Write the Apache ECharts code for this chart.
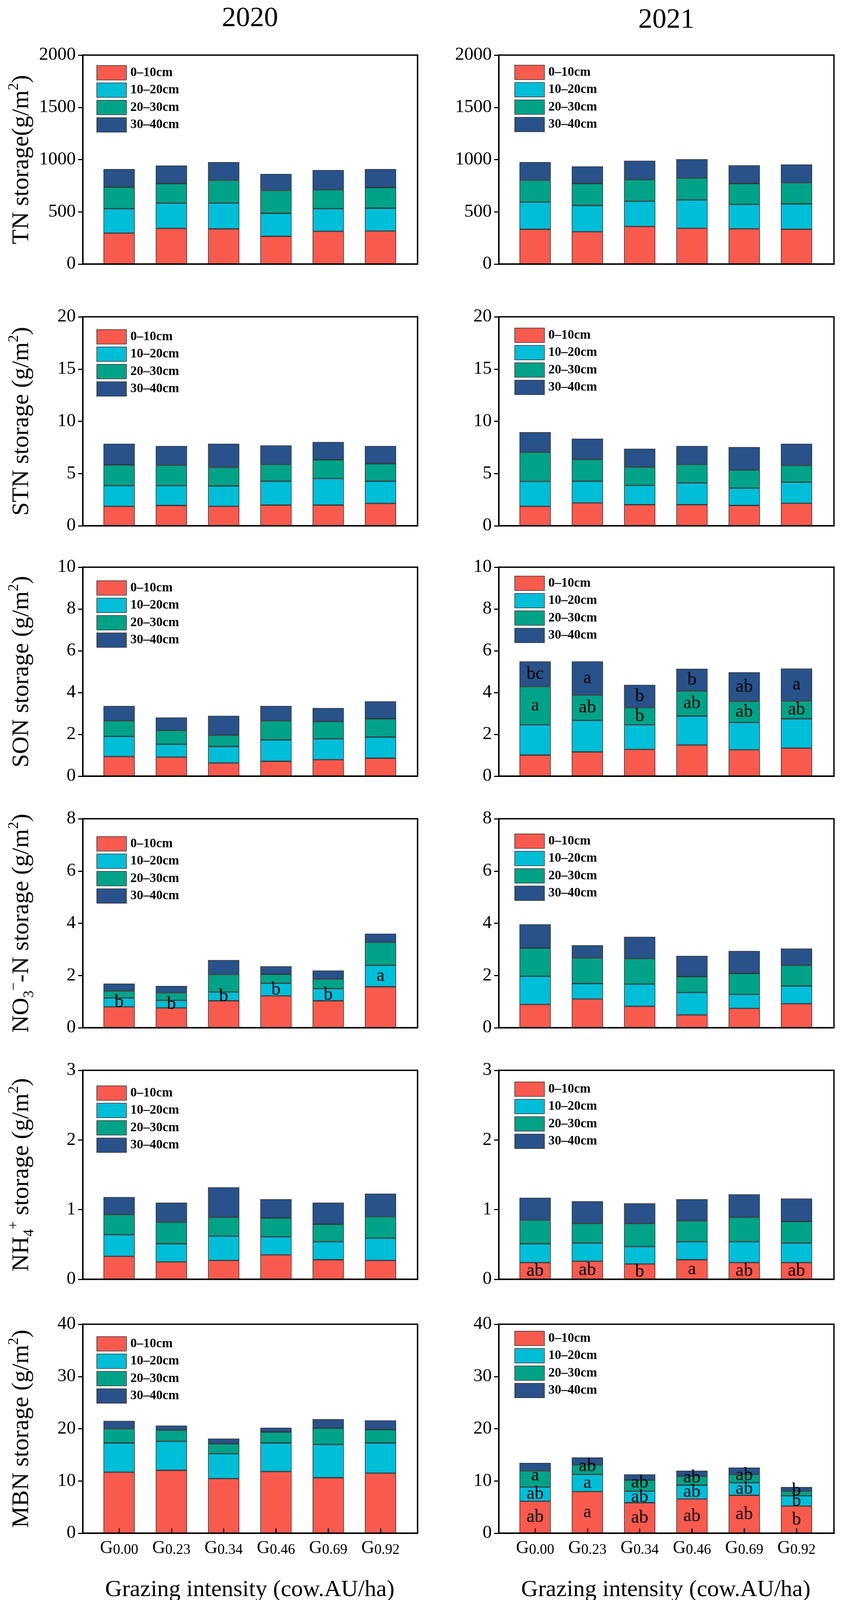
<!DOCTYPE html>
<html><head><meta charset="utf-8">
<script src="https://cdn.jsdelivr.net/npm/echarts@6/dist/echarts.min.js"></script>
<style>html,body{margin:0;padding:0;background:#fff}#c{width:2153px;height:4131px}</style>
</head><body><div id="c"></div>
<script>
// ---------- DATA ----------
const categories = ['0.00','0.23','0.34','0.46','0.69','0.92'];
const depths = ['0–10cm','10–20cm','20–30cm','30–40cm'];
const yMax = [2000, 20, 10, 8, 3, 40];
const yStep = [500, 5, 2, 2, 1, 10];

// TN storage (g/m2)
const tn20_d1 = [296, 341, 336, 265, 313, 316];
const tn20_d2 = [234, 243, 248, 221, 217, 219];
const tn20_d3 = [206, 186, 218, 219, 181, 198];
const tn20_d4 = [173, 173, 174, 158, 189, 176];
const tn21_d1 = [333, 309, 360, 342, 337, 333];
const tn21_d2 = [260, 252, 241, 272, 234, 243];
const tn21_d3 = [209, 209, 207, 209, 199, 203];
const tn21_d4 = [174, 165, 181, 181, 175, 174];
// STN storage
const stn20_d1 = [1.86, 1.94, 1.86, 1.98, 1.98, 2.14];
const stn20_d2 = [1.98, 1.90, 1.95, 2.28, 2.55, 2.12];
const stn20_d3 = [1.99, 1.96, 1.78, 1.62, 1.79, 1.68];
const stn20_d4 = [2.02, 1.84, 2.26, 1.81, 1.70, 1.70];
const stn21_d1 = [1.86, 2.19, 2.02, 2.02, 1.94, 2.15];
const stn21_d2 = [2.38, 2.07, 1.85, 2.08, 1.67, 2.03];
const stn21_d3 = [2.80, 2.09, 1.75, 1.78, 1.73, 1.60];
const stn21_d4 = [1.92, 1.99, 1.75, 1.76, 2.19, 2.07];
// SON storage
const son20_d1 = [0.94, 0.91, 0.63, 0.71, 0.79, 0.86];
const son20_d2 = [0.96, 0.62, 0.79, 1.03, 1.00, 1.01];
const son20_d3 = [0.75, 0.66, 0.54, 0.91, 0.82, 0.88];
const son20_d4 = [0.71, 0.62, 0.93, 0.71, 0.65, 0.83];
const son21_d1 = [1.01, 1.16, 1.28, 1.49, 1.26, 1.34];
const son21_d2 = [1.45, 1.51, 1.18, 1.39, 1.31, 1.41];
const son21_d3 = [1.83, 1.21, 0.82, 1.20, 1.01, 0.85];
const son21_d4 = [1.20, 1.61, 1.09, 1.06, 1.39, 1.55];
// NO3- -N storage
const no320_d1 = [0.80, 0.76, 1.03, 1.22, 1.03, 1.57];
const no320_d2 = [0.34, 0.29, 0.34, 0.48, 0.47, 0.82];
const no320_d3 = [0.27, 0.29, 0.67, 0.35, 0.36, 0.88];
const no320_d4 = [0.28, 0.26, 0.55, 0.30, 0.33, 0.33];
const no321_d1 = [0.89, 1.10, 0.82, 0.49, 0.74, 0.92];
const no321_d2 = [1.08, 0.59, 0.85, 0.86, 0.54, 0.68];
const no321_d3 = [1.08, 0.98, 0.98, 0.61, 0.80, 0.79];
const no321_d4 = [0.91, 0.49, 0.83, 0.79, 0.86, 0.64];
// NH4+ storage
const nh420_d1 = [0.33, 0.25, 0.27, 0.35, 0.28, 0.27];
const nh420_d2 = [0.31, 0.26, 0.35, 0.26, 0.26, 0.32];
const nh420_d3 = [0.29, 0.31, 0.27, 0.27, 0.25, 0.31];
const nh420_d4 = [0.25, 0.28, 0.43, 0.27, 0.31, 0.33];
const nh421_d1 = [0.24, 0.26, 0.22, 0.28, 0.24, 0.24];
const nh421_d2 = [0.27, 0.26, 0.25, 0.26, 0.30, 0.28];
const nh421_d3 = [0.34, 0.28, 0.33, 0.30, 0.35, 0.31];
const nh421_d4 = [0.32, 0.32, 0.29, 0.31, 0.33, 0.33];
// MBN storage
const mbn20_d1 = [11.68, 12.04, 10.44, 11.79, 10.62, 11.50];
const mbn20_d2 = [5.59, 5.55, 4.78, 5.48, 6.37, 5.77];
const mbn20_d3 = [2.73, 2.13, 1.88, 2.09, 3.12, 2.55];
const mbn20_d4 = [1.49, 0.88, 1.02, 0.82, 1.73, 1.77];
const mbn21_d1 = [6.12, 7.96, 5.84, 6.55, 7.26, 5.20];
const mbn21_d2 = [2.73, 3.30, 2.20, 2.65, 2.40, 1.95];
const mbn21_d3 = [3.08, 1.84, 2.12, 1.70, 1.60, 0.89];
const mbn21_d4 = [1.52, 1.41, 1.10, 1.06, 1.31, 0.81];

// significance letters
const son21_sig_d3 = ['a','ab','b','ab','ab','ab'];
const son21_sig_d4 = ['bc','a','b','b','ab','a'];
const no320_sig_d2 = ['b','b','b','b','b','a'];
const nh421_sig_d1 = ['ab','ab','b','a','ab','ab'];
const mbn21_sig_d1 = ['ab','a','ab','ab','ab','b'];
const mbn21_sig_d2 = ['ab','a','ab','ab','ab','b'];
const mbn21_sig_d3 = ['a','ab','ab','ab','ab','b'];

// ---------- LAYOUT / STYLE ----------
const SERIF = "'Liberation Serif','Times New Roman',serif";
const COLORS = ['#F95A4E','#00BED8','#00A388','#285289'];
const FRAMES = [{left:212,width:857},{left:1277,width:858}];
const TOPS = [141, 811, 1452, 2096, 2740, 3390];
const H = 535, INSET = 26, DATAW = 803;
const LEGEND_TOP = [[167,166],[843,839],[1486,1474],[2141,2134],[2779,2769],[3421,3407]];

const yNames = [
  '{a|TN}{a| storage}{a|(g/m}{p|2}{a|)}',
  '{a|STN}{a| storage (g/m}{p|2}{a|)}',
  '{a|SON}{a| storage (g/m}{p|2}{a|)}',
  '{a|NO}{b|3}{p|−}{a|-N storage (g/m}{p|2}{a|)}',
  '{a|NH}{b|4}{p|+}{a| storage (g/m}{p|2}{a|)}',
  '{a|MBN}{a| storage (g/m}{p|2}{a|)}'
];

const panels = [
  {r:0,c:0,d:[tn20_d1,tn20_d2,tn20_d3,tn20_d4],sig:{}},
  {r:0,c:1,d:[tn21_d1,tn21_d2,tn21_d3,tn21_d4],sig:{}},
  {r:1,c:0,d:[stn20_d1,stn20_d2,stn20_d3,stn20_d4],sig:{}},
  {r:1,c:1,d:[stn21_d1,stn21_d2,stn21_d3,stn21_d4],sig:{}},
  {r:2,c:0,d:[son20_d1,son20_d2,son20_d3,son20_d4],sig:{}},
  {r:2,c:1,d:[son21_d1,son21_d2,son21_d3,son21_d4],sig:{2:son21_sig_d3,3:son21_sig_d4}},
  {r:3,c:0,d:[no320_d1,no320_d2,no320_d3,no320_d4],sig:{1:no320_sig_d2}},
  {r:3,c:1,d:[no321_d1,no321_d2,no321_d3,no321_d4],sig:{}},
  {r:4,c:0,d:[nh420_d1,nh420_d2,nh420_d3,nh420_d4],sig:{}},
  {r:4,c:1,d:[nh421_d1,nh421_d2,nh421_d3,nh421_d4],sig:{0:nh421_sig_d1}},
  {r:5,c:0,d:[mbn20_d1,mbn20_d2,mbn20_d3,mbn20_d4],sig:{}},
  {r:5,c:1,d:[mbn21_d1,mbn21_d2,mbn21_d3,mbn21_d4],sig:{0:mbn21_sig_d1,1:mbn21_sig_d2,2:mbn21_sig_d3}, nudge:{2:-8}}
];

const option = {
  animation:false, backgroundColor:'#fff',
  grid:[], xAxis:[], yAxis:[], series:[], legend:[],
  graphic:[
    {type:'text', x:640, y:48, style:{text:'2020', fontSize:72, fontFamily:SERIF, fill:'#000', textAlign:'center', verticalAlign:'middle'}},
    {type:'text', x:1706, y:52, style:{text:'2021', fontSize:72, fontFamily:SERIF, fill:'#000', textAlign:'center', verticalAlign:'middle'}}
  ]
};

panels.forEach((p) => {
  const fr = FRAMES[p.c], top = TOPS[p.r];
  const bottomRow = p.r === 5;
  const gF = option.grid.length;
  option.grid.push({left:fr.left, top:top, width:fr.width, height:H, show:true, borderColor:'#000', borderWidth:3.5, backgroundColor:'rgba(0,0,0,0)'});
  option.grid.push({left:fr.left+INSET, top:top, width:DATAW, height:H});
  const gD = gF + 1;
  // frame axes
  option.xAxis.push({gridIndex:gF, type:'value', min:0, max:1, z:10,
    axisLine:{show:true, lineStyle:{color:'#000', width:3.5}}, axisTick:{show:false}, axisLabel:{show:false}, splitLine:{show:false}});
  const yF = {gridIndex:gF, type:'value', min:0, max:yMax[p.r], interval:yStep[p.r], z:10,
    axisLine:{show:true, lineStyle:{color:'#000', width:3.5}},
    axisTick:{show:true, length:12, lineStyle:{color:'#000', width:3}},
    axisLabel:{color:'#000', fontSize:47, fontFamily:SERIF, margin:18, formatter:(v)=>String(v)},
    splitLine:{show:false}};
  if (p.c === 0) {
    Object.assign(yF, {name:yNames[p.r], nameLocation:'middle', nameRotate:90, nameGap:118,
      nameTextStyle:{color:'#000', rich:{
        a:{fontSize:62, fontFamily:SERIF, color:'#000', lineHeight:76},
        p:{fontSize:37, fontFamily:SERIF, color:'#000', lineHeight:37, verticalAlign:'top'},
        b:{fontSize:37, fontFamily:SERIF, color:'#000', lineHeight:37, verticalAlign:'bottom'}
      }}});
  }
  option.yAxis.push(yF);
  // data axes
  const xD = {gridIndex:gD, type:'category', data:categories, boundaryGap:true, z:10,
    axisLine:{show:false}, splitLine:{show:false},
    axisTick: bottomRow ? {show:true, inside:true, alignWithLabel:true, length:12, lineStyle:{color:'#000', width:3}} : {show:false},
    axisLabel: bottomRow ? {show:true, interval:0, margin:16, formatter:(v)=>'{g|G}{s|'+v+'}',
      rich:{g:{fontSize:46, fontFamily:SERIF, color:'#000', lineHeight:46, verticalAlign:'top'},
            s:{fontSize:37, fontFamily:SERIF, color:'#000', lineHeight:37, padding:[22,0,0,0], verticalAlign:'bottom'}}} : {show:false}
  };
  if (bottomRow) {
    Object.assign(xD, {name:'Grazing intensity (cow.AU/ha)', nameLocation:'middle', nameGap:114,
      nameTextStyle:{fontSize:60, fontFamily:SERIF, color:'#000', lineHeight:62}});
  }
  const xDi = option.xAxis.length;
  option.xAxis.push(xD);
  const yDi = option.yAxis.length;
  option.yAxis.push({gridIndex:gD, type:'value', min:0, max:yMax[p.r], show:false});
  // series
  p.d.forEach((arr, k) => {
    const sig = p.sig[k];
    const nud = (p.nudge && p.nudge[k]) || 0;
    option.series.push({
      type:'bar', name:depths[k], xAxisIndex:xDi, yAxisIndex:yDi, stack:'st'+gF, barWidth:80,
      data:arr,
      itemStyle:{color:COLORS[k], borderColor:'#333', borderWidth:1.5},
      label: sig ? {show:true, position:'inside', offset:[0,nud], formatter:(pp)=>sig[pp.dataIndex],
        fontSize:47, fontFamily:SERIF, color:'#000', textBorderWidth:0} : {show:false},
      emphasis:{disabled:true}
    });
  });
  // legend
  option.legend.push({left: fr.left + (p.c===0?35:40), top: LEGEND_TOP[p.r][p.c], orient:'vertical',
    itemWidth:76, itemHeight:37, itemGap:6, padding:0, icon:'rect', selectedMode:false,
    data:depths,
    itemStyle:{borderColor:'#333', borderWidth:1.5},
    textStyle:{fontFamily:SERIF, fontSize:33, fontWeight:'bold', color:'#000', padding:[0,0,0,5]}});
});

const chart = echarts.init(document.getElementById('c'), null, {renderer:'canvas'});
chart.setOption(option);
</script>
</body></html>
